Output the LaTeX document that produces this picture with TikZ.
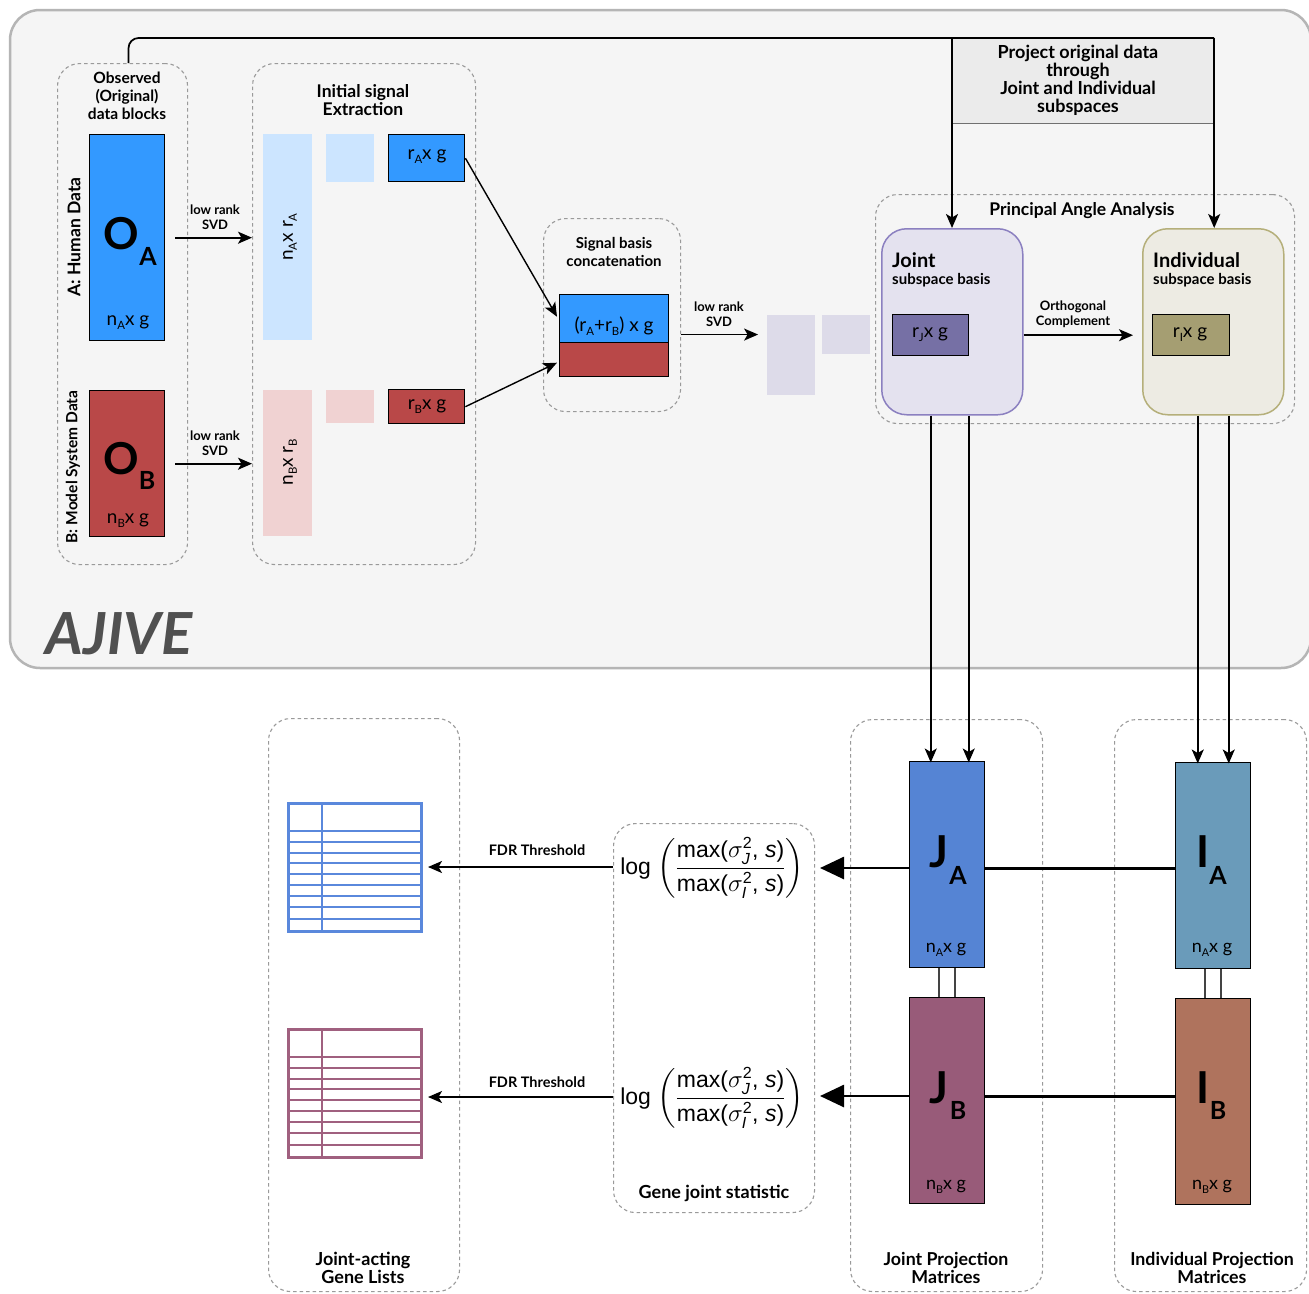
\documentclass[tikz,border=0pt]{standalone}
\usepackage{fontspec}
\setmainfont{Lato}
\newfontfamily\helv{Liberation Sans}
\usepackage{amsmath}
\usetikzlibrary{arrows.meta,calc}
\definecolor{outerf}{HTML}{F5F5F5}
\definecolor{outerc}{HTML}{B5B5B5}
\definecolor{dgray}{HTML}{9A9A9A}
\definecolor{blueA}{HTML}{3399FF}
\definecolor{redB}{HTML}{B94848}
\definecolor{lblue}{HTML}{CCE5FF}
\definecolor{lpink}{HTML}{F0D2D2}
\definecolor{lav}{HTML}{DDDBE9}
\definecolor{jfill}{HTML}{E4E2EF}
\definecolor{jdraw}{HTML}{8B80C0}
\definecolor{rjc}{HTML}{7670A5}
\definecolor{ifill}{HTML}{EDEBE3}
\definecolor{idraw}{HTML}{B5AF7A}
\definecolor{ric}{HTML}{A59E72}
\definecolor{projf}{HTML}{EBEBEB}
\definecolor{projd}{HTML}{707070}
\definecolor{jac}{HTML}{5584D4}
\definecolor{jbc}{HTML}{985B79}
\definecolor{iac}{HTML}{6A9BBA}
\definecolor{ibc}{HTML}{AF735D}
\definecolor{tblue}{HTML}{5A88DC}
\definecolor{tpink}{HTML}{A0607F}
\definecolor{ajivec}{HTML}{505050}
\definecolor{connc}{HTML}{444444}
\newcommand{\sbs}[1]{\raisebox{-0.4ex}{\scalebox{0.6}{#1}}}
\newcommand{\gstat}{log $\left(\dfrac{\text{max(}\sigma^{\text{2}}_{\textit{J}}\text{, }\textit{s}\text{)}}{\text{max(}\sigma^{\text{2}}_{\textit{I}}\text{, }\textit{s}\text{)}}\right)$}
\begin{document}
\begin{tikzpicture}[x=1pt,y=-1pt,
  dbox/.style={draw=dgray, dash pattern=on 3.5pt off 3pt, line width=1.1pt, rounded corners=22pt, anchor=north west, inner sep=0pt},
  mat/.style={draw=black, line width=1.4pt, inner sep=0pt, anchor=north west},
  soft/.style={draw=none, inner sep=0pt, anchor=north west},
  arr/.style={-{Stealth[length=14pt,width=12pt,inset=3.5pt]}, line width=1.7pt},
  conn/.style={draw=connc, line width=2pt},
  heavy/.style={line width=2.7pt},
  ttl/.style={font=\fontsize{18}{18}\selectfont\bfseries, align=center, inner sep=0pt},
  sml/.style={font=\fontsize{13}{15}\selectfont\bfseries, align=center, inner sep=0pt},
  dim/.style={font=\fontsize{19}{20}\selectfont, inner sep=0pt},
  big/.style={font=\fontsize{44}{44}\selectfont\bfseries, inner sep=0pt},
  bigsub/.style={font=\fontsize{25}{25}\selectfont\bfseries, inner sep=0pt},
  form/.style={font=\helv\fontsize{23}{27}\selectfont, inner sep=0pt}
]
\useasboundingbox (0,0) rectangle (1309,1293);
\fill[white] (0,0) rectangle (1309,1293);
% outer AJIVE panel
\draw[draw=outerc, fill=outerf, line width=2.5pt, rounded corners=30pt] (10,10) rectangle (1311,668);
\node[font=\fontsize{58}{58}\selectfont\bfseries\itshape, text=ajivec, inner sep=0pt] (ajive) at (119,634) {AJIVE};

% dashed group boxes
\node[dbox, minimum width=130pt, minimum height=501pt] (obs) at (57,63) {};
\node[dbox, minimum width=223pt, minimum height=501pt] (ext) at (252,63) {};
\node[dbox, minimum width=137pt, minimum height=193pt] (sig) at (543,218) {};
\node[dbox, minimum width=419pt, minimum height=229pt] (paa) at (875,194) {};
\node[dbox, minimum width=191pt, minimum height=573pt] (gen) at (268,718) {};
\node[dbox, minimum width=201pt, minimum height=389pt] (gs) at (613,823) {};
\node[dbox, minimum width=192pt, minimum height=572pt] (jp) at (850,719) {};
\node[dbox, minimum width=192pt, minimum height=572pt] (ip) at (1114,719) {};

% titles
\node[ttl, font=\fontsize{15.5}{18}\selectfont\bfseries] (obst) at (127,96) {Observed\\(Original)\\data blocks};
\node[ttl, font=\fontsize{17.5}{18}\selectfont\bfseries] (extt) at (363,100) {Initial signal\\Extraction};
\node[ttl, font=\fontsize{15}{18}\selectfont\bfseries] (sigt) at (614,252) {Signal basis\\concatenation};
\node[ttl, font=\fontsize{17.5}{18}\selectfont\bfseries] (paat) at (1082,211) {Principal Angle Analysis};
\node[ttl] (gst) at (714,1193) {Gene joint statistic};
\node[ttl] (gent) at (363,1268) {Joint-acting\\Gene Lists};
\node[ttl, font=\fontsize{17.8}{18}\selectfont\bfseries] (jpt) at (946,1268) {Joint Projection\\Matrices};
\node[ttl, font=\fontsize{17.8}{18}\selectfont\bfseries] (ipt) at (1212,1268) {Individual Projection\\Matrices};

% observed blocks
\node[mat, fill=blueA, minimum width=75pt, minimum height=206pt] (oa) at (89,134) {};
\node[big] at (121,234) {O};
\node[bigsub] at (148,256) {A};
\node[dim] at (128,323) {n\sbs{A}x g};
\node[mat, fill=redB, minimum width=75pt, minimum height=146pt] (ob) at (89,390) {};
\node[big] at (121,459) {O};
\node[bigsub] at (147,480) {B};
\node[dim] at (128,521) {n\sbs{B}x g};
\node[rotate=90, font=\fontsize{17.5}{17.5}\selectfont\bfseries, inner sep=0pt] (hum) at (74,237) {A: Human Data};
\node[rotate=90, font=\fontsize{15.5}{15.5}\selectfont\bfseries, inner sep=0pt] (mod) at (73,467) {B: Model System Data};

% SVD arrows
\draw[arr] ([xshift=10pt]oa.east) -- (ext.west |- oa.east);
\node[sml] at (215,217) {low rank\\SVD};
\draw[arr] ([xshift=10pt]ob.east) -- (ext.west |- ob.east);
\node[sml] at (215,443) {low rank\\SVD};

% initial signal extraction
\node[soft, fill=lblue, minimum width=49pt, minimum height=206pt] (la1) at (263,134) {};
\node[soft, fill=lblue, minimum width=48pt, minimum height=48pt] (la2) at (326,134) {};
\node[mat, fill=blueA, minimum width=76pt, minimum height=47pt] (ra) at (388,134) {};
\node[dim, rotate=90] at (290,237) {n\sbs{A}x r\sbs{A}};
\node[dim] at (427,157) {r\sbs{A}x g};
\node[soft, fill=lpink, minimum width=49pt, minimum height=146pt] (lb1) at (263,390) {};
\node[soft, fill=lpink, minimum width=48pt, minimum height=33pt] (lb2) at (326,390) {};
\node[mat, fill=redB, minimum width=76pt, minimum height=34pt] (rb) at (388,389) {};
\node[dim, rotate=90] at (290,462) {n\sbs{B}x r\sbs{B}};
\node[dim] at (427,407) {r\sbs{B}x g};

% concatenation
\node[mat, fill=blueA, minimum width=109pt, minimum height=48pt] (cta) at (559,294) {};
\node[mat, fill=redB, minimum width=109pt, minimum height=34pt] (ctb) at (559,342) {};
\node[dim] at (614,326) {(r\sbs{A}+r\sbs{B}) x g};
\draw[arr, line width=1.4pt] (ra.east) -- ([xshift=-2pt,yshift=2pt]cta.west);
\draw[arr, line width=1.4pt] (rb.east) -- ([xshift=-2pt,yshift=-3pt]ctb.west);
\draw[arr] ([yshift=-19.5pt]sig.east) -- ++(77,0);
\node[sml] at (719,314) {low rank\\SVD};
\node[soft, fill=lav, minimum width=48pt, minimum height=80pt] (lv1) at (767,315) {};
\node[soft, fill=lav, minimum width=48pt, minimum height=39pt] (lv2) at (822,315) {};

% principal angle analysis
\node[draw=jdraw, fill=jfill, line width=1.5pt, rounded corners=25pt, anchor=north west, minimum width=141pt, minimum height=186pt, inner sep=0pt] (jbox) at (881,228) {};
\node[draw=idraw, fill=ifill, line width=1.5pt, rounded corners=25pt, anchor=north west, minimum width=141pt, minimum height=186pt, inner sep=0pt] (ibox) at (1142,228) {};
\node[anchor=west, font=\fontsize{20}{20}\selectfont\bfseries, inner sep=0pt] at (892,260) {Joint};
\node[anchor=west, font=\fontsize{15}{15}\selectfont\bfseries, inner sep=0pt] at (892,280) {subspace basis};
\node[anchor=west, font=\fontsize{20}{20}\selectfont\bfseries, inner sep=0pt] at (1153,260) {Individual};
\node[anchor=west, font=\fontsize{15}{15}\selectfont\bfseries, inner sep=0pt] at (1153,280) {subspace basis};
\node[mat, fill=rjc, minimum width=76pt, minimum height=41pt] (rj) at (892,314) {};
\node[dim] at (930,335) {r\sbs{J}x g};
\node[mat, fill=ric, minimum width=77pt, minimum height=41pt] (ri) at (1152,314) {};
\node[dim] at (1190,335) {r\sbs{I}x g};
\draw[arr] (jbox.east |- rj.east) -- ([xshift=-9pt]ibox.west |- rj.east);
\node[sml] at (1073,314) {Orthogonal\\Complement};

% project box and top connector
\node[draw=projd, fill=projf, line width=1.2pt, anchor=north west, minimum width=261pt, minimum height=85pt, inner sep=0pt] (proj) at (952,38) {};
\node[ttl] (projt) at (1078,80) {Project original data\\through\\Joint and Individual\\subspaces};
\draw[line width=1.7pt, rounded corners=10pt] ([xshift=6pt]obs.north) |- (proj.north east);
\draw[arr] (proj.north west) -- (proj.north west |- jbox.north);
\draw[arr] (proj.north east) -- (proj.north east |- ibox.north);

% projection matrices
\node[mat, fill=jac, minimum width=75pt, minimum height=206pt] (ja) at (909,761) {};
\node[mat, fill=jbc, minimum width=75pt, minimum height=206pt] (jb) at (909,997) {};
\node[mat, fill=iac, minimum width=75pt, minimum height=206pt] (ia) at (1175,762) {};
\node[mat, fill=ibc, minimum width=75pt, minimum height=206pt] (ib) at (1175,998) {};
\node[big] at (939,852) {J};
\node[bigsub] at (958,875) {A};
\node[big] at (939,1088) {J};
\node[bigsub] at (958,1110) {B};
\node[big] at (1203,852) {I};
\node[bigsub] at (1218,875) {A};
\node[big] at (1203,1088) {I};
\node[bigsub] at (1218,1110) {B};
\node[dim, font=\fontsize{18}{18}\selectfont] at (946,950) {n\sbs{A}x g};
\node[dim, font=\fontsize{18}{18}\selectfont] at (946,1187) {n\sbs{B}x g};
\node[dim, font=\fontsize{18}{18}\selectfont] at (1212,950) {n\sbs{A}x g};
\node[dim, font=\fontsize{18}{18}\selectfont] at (1212,1187) {n\sbs{B}x g};
\draw[conn] ([xshift=-8.5pt]ja.south) -- ([xshift=-8.5pt]jb.north);
\draw[conn] ([xshift=7.5pt]ja.south) -- ([xshift=7.5pt]jb.north);
\draw[conn] ([xshift=-8.5pt]ia.south) -- ([xshift=-8.5pt]ib.north);
\draw[conn] ([xshift=7.5pt]ia.south) -- ([xshift=7.5pt]ib.north);

% connectors from subspace boxes
\draw[arr] ([xshift=-21.5pt]jbox.south) -- ++(0,347);
\draw[arr] ([xshift=16.5pt]jbox.south) -- ++(0,347);
\draw[arr] ([xshift=-15.5pt]ibox.south) -- ++(0,348);
\draw[arr] ([xshift=15.5pt]ibox.south) -- ++(0,348);

% rows
\draw[heavy] (ia.west |- 0,868.5) -- (ja.east |- 0,868.5);
\draw[heavy, -{Triangle[length=24pt,width=22pt]}] (ja.west |- 0,868) -- ++(-89,0);
\draw[heavy] (ib.west |- 0,1096.5) -- (jb.east |- 0,1096.5);
\draw[heavy, -{Triangle[length=24pt,width=22pt]}] (jb.west |- 0,1096) -- ++(-89,0);

% formulas
\node[form] (fa) at (712,868) {\gstat};
\node[form] (fb) at (712,1098) {\gstat};

% tables
\node[draw=tblue, line width=3pt, anchor=north west, minimum width=133pt, minimum height=128pt, inner sep=0pt] (taba) at (287,802) {};
\node[draw=tpink, line width=3pt, anchor=north west, minimum width=133pt, minimum height=128pt, inner sep=0pt] (tabb) at (287,1028) {};
\foreach \t/\c in {0/tblue, 226/tpink}{
  \draw[\c, line width=1.6pt] (322,802+\t) -- (322,930+\t);
  \foreach \yy in {831,842,853,863,874,885,896,907,919}{
    \draw[\c, line width=1.6pt] (287,\yy+\t) -- (420,\yy+\t);
  }
}
\draw[arr] (gs.west |- 0,867) -- ++(-185,0);
\node[sml, font=\fontsize{14.5}{15}\selectfont\bfseries] at (537,850) {FDR Threshold};
\draw[arr] (gs.west |- 0,1097) -- ++(-185,0);
\node[sml, font=\fontsize{14.5}{15}\selectfont\bfseries] at (537,1082) {FDR Threshold};
\end{tikzpicture}
\end{document}
